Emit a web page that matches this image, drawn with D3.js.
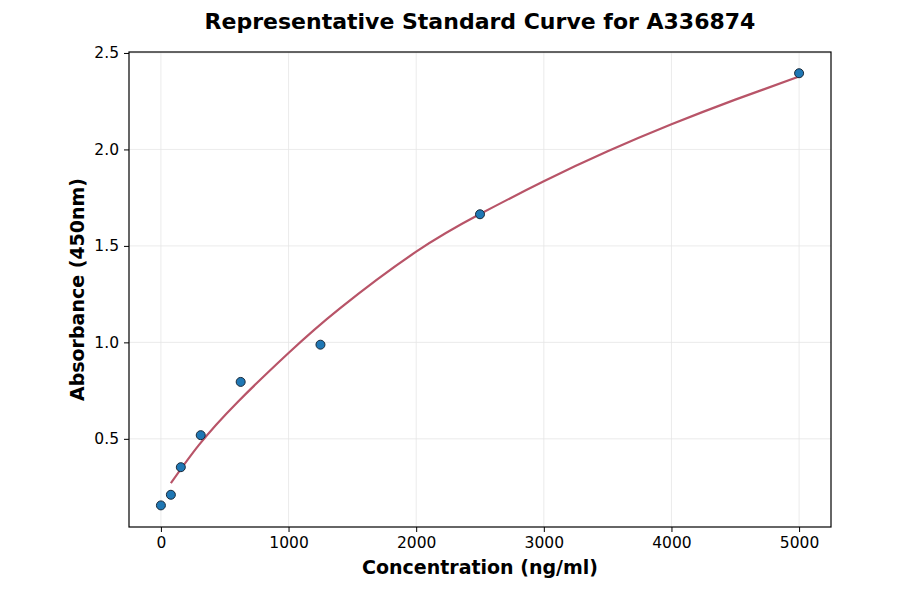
<!DOCTYPE html>
<html>
<head>
<meta charset="utf-8">
<script src="https://cdn.jsdelivr.net/npm/d3@7"></script>
<style>
  body { margin: 0; background: #fff; }
  text { font-family: 'DejaVu Sans', sans-serif; }
</style>
</head>
<body>
<div id='chart'></div>
<script>

// Standards (measured points)
const concentrations = [0, 78, 156, 312, 625, 1250, 2500, 5000];
const absorbances = [0.155, 0.21, 0.353, 0.519, 0.795, 0.988, 1.664, 2.395];

// Fitted curve
const curveConc = [78, 300, 600, 1000, 1400, 2000, 2500, 3000, 3500, 4000, 4500, 5000];
const curveAbs = [0.27, 0.47, 0.69, 0.945, 1.175, 1.47, 1.665, 1.835, 1.99, 2.13, 2.258, 2.378];

const xTicks = [0, 1000, 2000, 3000, 4000, 5000];
const yTicks = [0.5, 1.0, 1.5, 2.0, 2.5];

// Page Dimensions
const W = 900, H = 594;
const margin = {top: 52, right: 69, bottom: 67, left: 129};
const width = W - margin.left - margin.right;
const height = H - margin.top - margin.bottom;

const svg = d3.select('div#chart').append('svg')
  .attr('width', W)
  .attr('height', H);

const g = svg.append('g')
  .attr('transform', `translate(${margin.left},${margin.top})`);

const x = d3.scaleLinear().domain([-250, 5250]).range([0, width]);
const y = d3.scaleLinear().domain([0.043, 2.505]).range([height, 0]);

// Grid
g.append('g')
  .selectAll('line')
  .data(xTicks)
  .enter().append('line')
  .attr('x1', d => x(d)).attr('x2', d => x(d))
  .attr('y1', 0).attr('y2', height)
  .style('stroke', '#e6e6e6')
  .style('stroke-width', 0.8);

g.append('g')
  .selectAll('line')
  .data(yTicks)
  .enter().append('line')
  .attr('x1', 0).attr('x2', width)
  .attr('y1', d => y(d)).attr('y2', d => y(d))
  .style('stroke', '#e6e6e6')
  .style('stroke-width', 0.8);

// Axes
const xAxis = g.append('g')
  .attr('transform', `translate(0,${height})`)
  .call(d3.axisBottom(x).tickValues(xTicks).tickFormat(d3.format('d')).tickSize(5).tickPadding(5));

const yAxis = g.append('g')
  .call(d3.axisLeft(y).tickValues(yTicks).tickFormat(d3.format('.1f')).tickSize(5).tickPadding(5));

[xAxis, yAxis].forEach(a => {
  a.select('.domain').remove();
  a.selectAll('line').style('stroke', '#000').style('stroke-width', 1);
  a.selectAll('text')
    .style('font-size', '15.5px')
    .style('fill', '#000')
    .style('font-family', "'DejaVu Sans', sans-serif");
});

// Frame
g.append('rect')
  .attr('x', 0).attr('y', 0)
  .attr('width', width).attr('height', height)
  .style('fill', 'none')
  .style('stroke', '#000')
  .style('stroke-width', 1.2);

// Fitted curve
const line = d3.line()
  .x(d => x(d[0]))
  .y(d => y(d[1]))
  .curve(d3.curveNatural);

g.append('path')
  .datum(curveConc.map((c, i) => [c, curveAbs[i]]))
  .attr('d', line)
  .style('fill', 'none')
  .style('stroke', '#b85468')
  .style('stroke-width', 2.2);

// Standard points
g.append('g')
  .selectAll('circle')
  .data(concentrations.map((c, i) => [c, absorbances[i]]))
  .enter().append('circle')
  .attr('cx', d => x(d[0]))
  .attr('cy', d => y(d[1]))
  .attr('r', 4.5)
  .style('fill', '#1f77b4')
  .style('stroke', '#1a2a3a')
  .style('stroke-width', 1);

// Titles
svg.append('text')
  .attr('x', margin.left + width / 2)
  .attr('y', 29)
  .attr('text-anchor', 'middle')
  .style('font-size', '22px')
  .style('font-weight', 'bold')
  .text('Representative Standard Curve for A336874');

svg.append('text')
  .attr('x', margin.left + width / 2)
  .attr('y', 574)
  .attr('text-anchor', 'middle')
  .style('font-size', '19px')
  .style('font-weight', 'bold')
  .text('Concentration (ng/ml)');

svg.append('text')
  .attr('transform', `translate(84,${margin.top + height / 2}) rotate(-90)`)
  .attr('text-anchor', 'middle')
  .style('font-size', '19px')
  .style('font-weight', 'bold')
  .text('Absorbance (450nm)');

</script>
</body>
</html>
